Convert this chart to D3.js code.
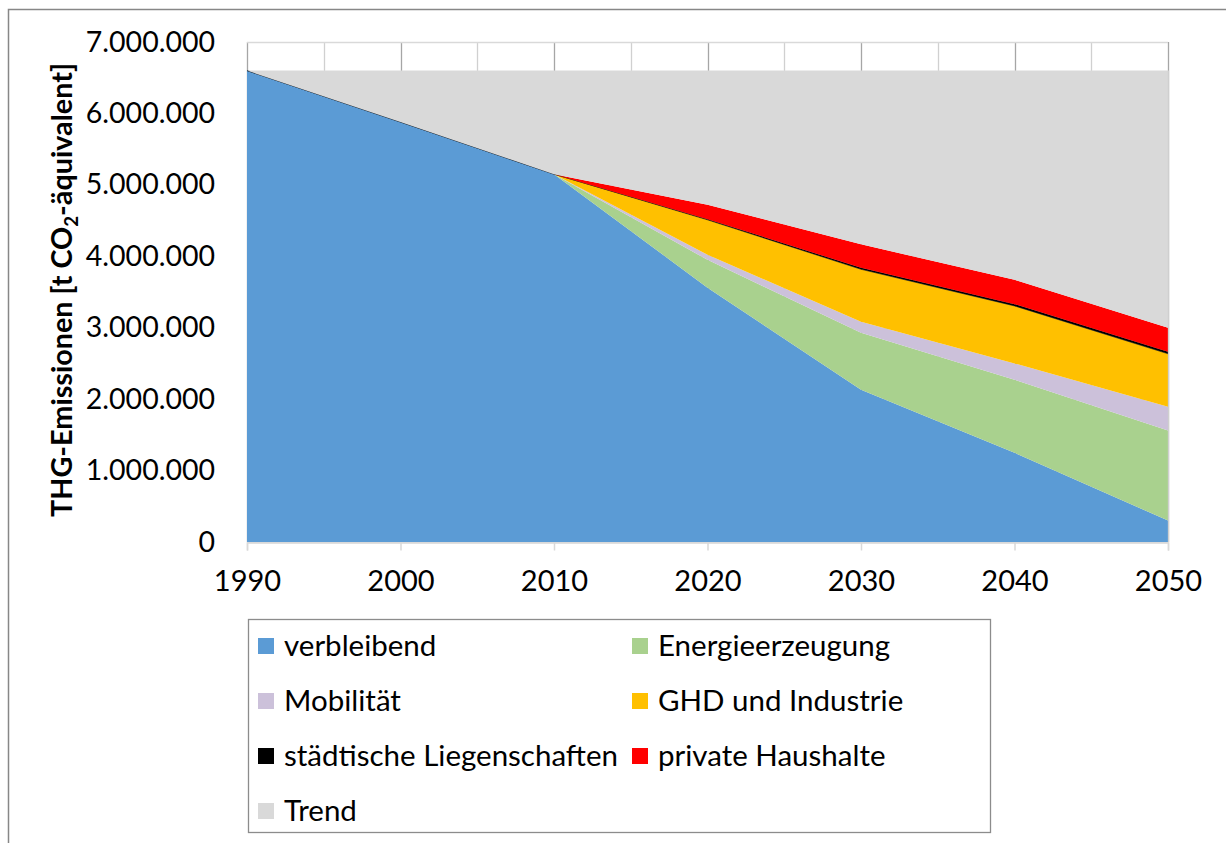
<!DOCTYPE html>
<html>
<head>
<meta charset="utf-8">
<script src="https://cdn.jsdelivr.net/npm/d3@7"></script>
<style>
  html, body { margin: 0; padding: 0; background: #fff; }
  svg { display: block; }
  text { font-family: Lato, "Open Sans", sans-serif; fill: #000; }
</style>
</head>
<body>
<svg id="chart" width="1226" height="843"></svg>
<script>
// ---- data ----
const years = [1990, 2000, 2010, 2020, 2030, 2040, 2050];
const verbleibend     = [6600000, 5880000, 5150000, 3560000, 2130000, 1250000, 300000];
const energie         = [0, 0, 0, 390000, 800000, 1020000, 1260000];
const mobilitaet      = [0, 0, 0, 70000, 154000, 230000, 335000];
const ghd             = [0, 0, 0, 490000, 734000, 805000, 740000];
const staedtisch      = [0, 0, 0, 10000, 20000, 25000, 30000];
const privat          = [0, 0, 0, 200000, 330000, 340000, 335000];
const trend           = [0, 720000, 1450000, 1880000, 2432000, 2930000, 3600000];
const yTicks = [0, 1000000, 2000000, 3000000, 4000000, 5000000, 6000000, 7000000];
const xTicks = [1990, 2000, 2010, 2020, 2030, 2040, 2050];
const seriesNames = ["verbleibend", "Energieerzeugung", "Mobilität", "GHD und Industrie",
                     "städtische Liegenschaften", "private Haushalte", "Trend"];
const seriesColors = ["#5b9bd5", "#a9d18e", "#ccc1da", "#ffc000", "#000000", "#ff0000", "#d9d9d9"];
const seriesValues = [verbleibend, energie, mobilitaet, ghd, staedtisch, privat, trend];

// ---- layout ----
const svg = d3.select("#chart");
const plot = { left: 247, top: 42, width: 921, height: 500 };

// outer frame (partly outside the picture)
svg.append("rect").attr("x", 8.5).attr("y", 9.5).attr("width", 1240).attr("height", 860)
  .attr("fill", "none").attr("stroke", "#878787").attr("stroke-width", 1.5);

const x = d3.scaleLinear().domain([1990, 2050]).range([plot.left, plot.left + plot.width]);
const y = d3.scaleLinear().domain([0, 7000000]).range([plot.top + plot.height, plot.top]);

const g = svg.append("g");

// gridlines
const minorYears = d3.range(1990, 2051, 5);
g.selectAll("line.vgrid").data(minorYears).enter().append("line")
  .attr("x1", d => Math.round(x(d)) + 0.5).attr("x2", d => Math.round(x(d)) + 0.5)
  .attr("y1", y(7000000)).attr("y2", y(0))
  .attr("stroke", d => (d % 10 === 0 ? "#a6a6a6" : "#d0d0d0")).attr("stroke-width", 1.3);
g.selectAll("line.hgrid").data(yTicks).enter().append("line")
  .attr("x1", plot.left).attr("x2", plot.left + plot.width)
  .attr("y1", d => Math.round(y(d)) + 0.5).attr("y2", d => Math.round(y(d)) + 0.5)
  .attr("stroke", "#d9d9d9").attr("stroke-width", 1.3);

// stacked areas
const table = years.map((yr, i) => {
  const row = { year: yr };
  seriesNames.forEach((n, k) => row[n] = seriesValues[k][i]);
  return row;
});
const stack = d3.stack().keys(seriesNames);
const layers = stack(table);
const area = d3.area()
  .x(d => x(d.data.year))
  .y0(d => y(d[0]))
  .y1(d => y(d[1]));
g.selectAll("path.layer").data(layers).enter().append("path")
  .attr("d", area)
  .attr("fill", (d, i) => seriesColors[i])
  .attr("stroke", (d, i) => (seriesNames[i] === "städtische Liegenschaften" ? "#000" : "none"))
  .attr("stroke-width", 0.5);

// right edge line
g.append("line").attr("x1", x(2050) + 0.5).attr("x2", x(2050) + 0.5)
  .attr("y1", y(6600000)).attr("y2", y(0)).attr("stroke", "#cfcfcf").attr("stroke-width", 1.3);

// x axis
const xAxis = d3.axisBottom(x).tickValues(xTicks).tickFormat(d3.format("d")).tickSize(8).tickPadding(20);
const gx = svg.append("g").attr("transform", `translate(0,${y(0) + 0.5})`).call(xAxis);
gx.select(".domain").attr("stroke", "#d9d9d9").attr("stroke-width", 1.5);
gx.selectAll(".tick line").attr("stroke", "#d9d9d9").attr("stroke-width", 1.5);
gx.selectAll(".tick text").attr("font-size", 29).attr("font-family", "Lato, sans-serif").attr("fill", "#000");

// y axis
const fmt = v => v === 0 ? "0" : d3.format(",")(v).replace(/,/g, ".");
const yAxis = d3.axisLeft(y).tickValues(yTicks).tickFormat(fmt).tickSize(0).tickPadding(32);
const gy = svg.append("g").attr("transform", `translate(${plot.left},0)`).call(yAxis);
gy.select(".domain").remove();
gy.selectAll(".tick text").attr("font-size", 28.5).attr("font-family", "Lato, sans-serif").attr("fill", "#000");

// y title
const title = svg.append("text")
  .attr("transform", "translate(72,290) rotate(-90)")
  .attr("text-anchor", "middle")
  .attr("font-weight", "bold")
  .attr("font-size", 26);
title.append("tspan").text("THG-Emissionen [t CO");
const sub = title.append("tspan").attr("dy", 6).attr("font-size", 17).text("2");
title.append("tspan").attr("dy", -6).text("-äquivalent]");
const len = title.node().getComputedTextLength();
const fs = 26 * 454 / len;
title.attr("font-size", fs);
sub.attr("font-size", fs * 0.65);

// legend
svg.append("rect").attr("x", 248.5).attr("y", 619.5).attr("width", 742).attr("height", 213)
  .attr("fill", "#fff").attr("stroke", "#8c8c8c").attr("stroke-width", 1.3);
const legendPos = [
  [258, 646], [632, 646],
  [258, 701], [632, 701],
  [258, 756], [632, 756],
  [258, 811]
];
const leg = svg.append("g").selectAll("g").data(seriesNames).enter().append("g")
  .attr("transform", (d, i) => `translate(${legendPos[i][0]},${legendPos[i][1]})`);
leg.append("rect").attr("x", 0).attr("y", -8).attr("width", 16).attr("height", 16)
  .attr("fill", (d, i) => seriesColors[i]);
leg.append("text").attr("x", 26).attr("y", 0).attr("dy", "0.35em")
  .attr("font-size", 29.5).text(d => d);
</script>
</body>
</html>
